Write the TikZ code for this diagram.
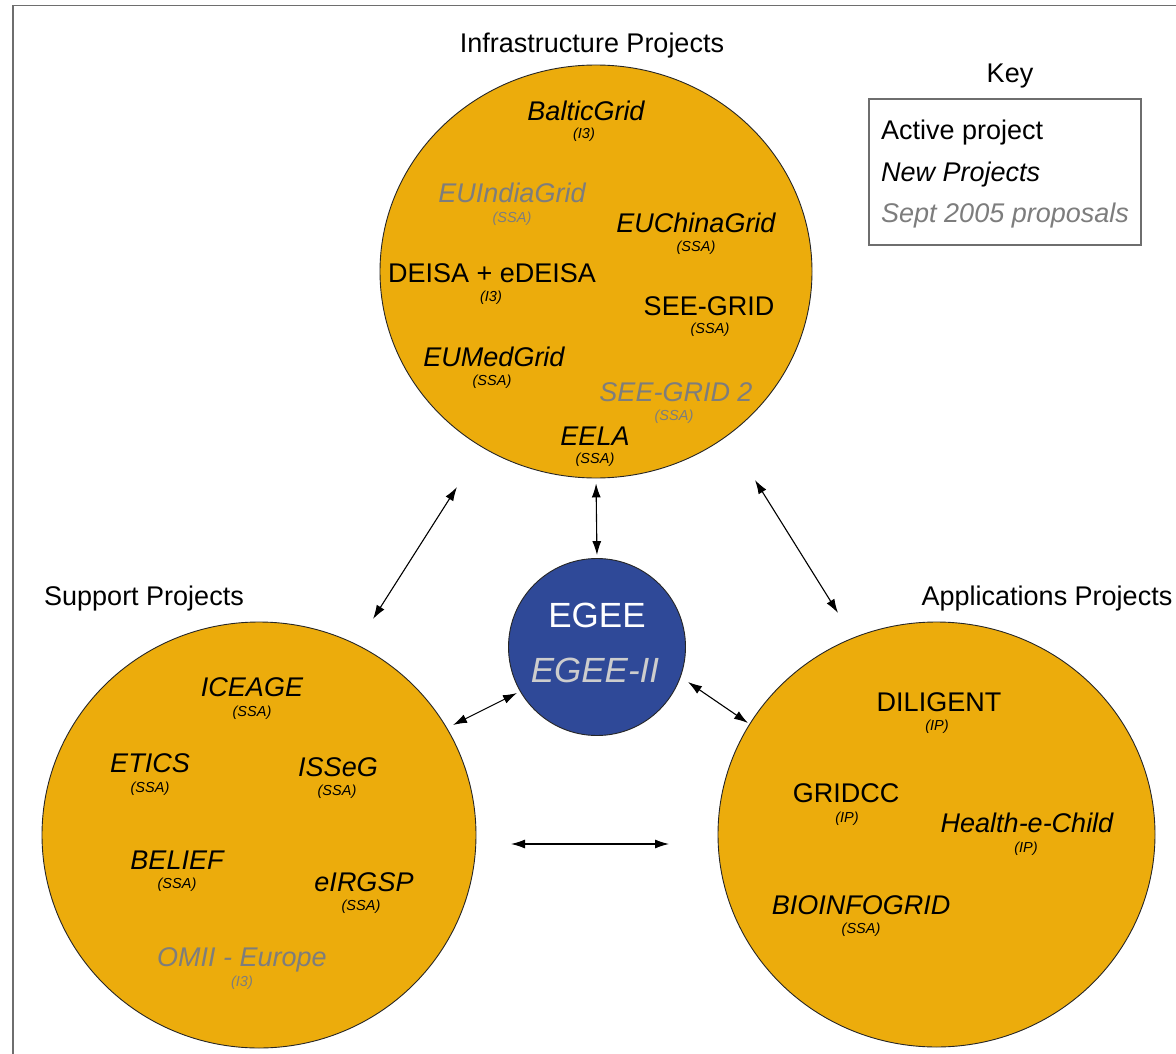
\documentclass[tikz,border=0pt]{standalone}
\usepackage{fontspec}
\setmainfont{Liberation Sans}
\usetikzlibrary{arrows.meta,shapes.geometric}
\definecolor{orangefill}{RGB}{236,172,12}
\definecolor{egeeblue}{RGB}{47,73,152}
\definecolor{propgray}{RGB}{125,125,125}
\definecolor{egeegray}{RGB}{205,205,205}
\definecolor{framegray}{RGB}{110,110,110}
\begin{document}
\begin{tikzpicture}[x=1pt,y=-1pt,
  bubble/.style={draw=black!85, line width=0.9pt, fill=orangefill, ellipse, inner sep=0pt},
  lbl/.style={font=\fontsize{27}{32}\selectfont, inner sep=0pt, text height=19.4pt, text depth=0pt},
  it/.style={lbl, font=\fontsize{27}{32}\selectfont\itshape},
  sub/.style={font=\fontsize{14.5}{17}\selectfont\itshape, inner sep=0pt, text height=10.4pt, text depth=0pt},
  prop/.style={text=propgray},
  arr/.style={line width=1.1pt, {Latex[length=14pt,width=9pt]}-{Latex[length=14pt,width=9pt]}}
]
\useasboundingbox (0,0) rectangle (1176,1054);
\fill[white] (0,0) rectangle (1176,1054);
% frame
\draw[framegray, line width=1.6pt] (13,1054) -- (13,5.5) -- (1176,5.5);

% circles
\node[bubble, minimum width=432pt, minimum height=413pt] (top) at (596,271.5) {};
\node[bubble, minimum width=434pt, minimum height=426pt] (left) at (259,835) {};
\node[bubble, minimum width=437pt, minimum height=425pt] (right) at (936.5,834.5) {};
\node[draw=black!85, line width=0.9pt, fill=egeeblue, circle, inner sep=0pt, minimum size=177pt] (egee) at (597,647) {};

% titles
\node[lbl] (tinfra) at (592,43) {Infrastructure Projects};
\node[lbl] (tsupport) at (144,596) {Support Projects};
\node[lbl] (tapps) at (1047,596) {Applications Projects};

% key
\node[lbl] (tkey) at (1010,73) {Key};
\node[draw=framegray, line width=2pt, minimum width=272pt, minimum height=146pt, inner sep=0pt] (keybox) at (1005,172) {};
\node[lbl, anchor=west] (k1) at (881,130) {Active project};
\node[it, anchor=west] (k2) at (881,172) {New Projects};
\node[it, prop, anchor=west] (k3) at (881,213) {Sept 2005 proposals};

% EGEE
\node[lbl, font=\fontsize{35}{40}\selectfont, text height=25pt, text=white] (e1) at (597,615) {EGEE};
\node[lbl, font=\fontsize{35}{40}\selectfont\itshape, text height=25pt, text=egeegray] (e2) at (595,670) {EGEE-II};

% infrastructure projects
\node[it] (p1) at (586,111) {BalticGrid};
\node[sub] (p1s) at (584,133) {(I3)};
\node[it, prop] (p2) at (512,193) {EUIndiaGrid};
\node[sub, prop] (p2s) at (512,217) {(SSA)};
\node[it] (p3) at (696,223) {EUChinaGrid};
\node[sub] (p3s) at (696,246) {(SSA)};
\node[lbl] (p4) at (492,273) {DEISA + eDEISA};
\node[sub] (p4s) at (491,296) {(I3)};
\node[lbl] (p5) at (709,306) {SEE-GRID};
\node[sub] (p5s) at (710,328) {(SSA)};
\node[it] (p6) at (494,357) {EUMedGrid};
\node[sub] (p6s) at (492,380) {(SSA)};
\node[it, prop] (p7) at (676,392) {SEE-GRID 2};
\node[sub, prop] (p7s) at (674,415) {(SSA)};
\node[it] (p8) at (595,436) {EELA};
\node[sub] (p8s) at (595,458) {(SSA)};

% support projects
\node[it] (q1) at (252,687) {ICEAGE};
\node[sub] (q1s) at (252,711) {(SSA)};
\node[it] (q2) at (150,763) {ETICS};
\node[sub] (q2s) at (150,787) {(SSA)};
\node[it] (q3) at (338,767) {ISSeG};
\node[sub] (q3s) at (337,790) {(SSA)};
\node[it] (q4) at (177,860) {BELIEF};
\node[sub] (q4s) at (177,883) {(SSA)};
\node[it] (q5) at (364,882) {eIRGSP};
\node[sub] (q5s) at (361,905) {(SSA)};
\node[it, prop] (q6) at (242,957) {OMII - Europe};
\node[sub, prop] (q6s) at (242,981) {(I3)};

% applications projects
\node[lbl] (r1) at (939,702) {DILIGENT};
\node[sub] (r1s) at (937,725) {(IP)};
\node[lbl] (r2) at (846,793) {GRIDCC};
\node[sub] (r2s) at (847,817) {(IP)};
\node[it] (r3) at (1027,823) {Health-e-Child};
\node[sub] (r3s) at (1026,847) {(IP)};
\node[it] (r4) at (861,905) {BIOINFOGRID};
\node[sub] (r4s) at (861,928) {(SSA)};

% arrow end points
\coordinate (a1s) at (457,487);
\coordinate (a1e) at (373,619);
\coordinate (a2s) at (755,480);
\coordinate (a2e) at (838,613);
\coordinate (a4s) at (453,725);
\coordinate (a4e) at (517,693);
\coordinate (a5s) at (688,682);
\coordinate (a5e) at (748,723);
\coordinate (a6s) at (511,844);
\coordinate (a6e) at (669,844);

% connectors
\draw[arr, shorten <=5pt, shorten >=3pt] (top.south) -- (egee.north);
\draw[arr] (a1s) -- (a1e);
\draw[arr] (a2s) -- (a2e);
\draw[arr] (a4s) -- (a4e);
\draw[arr] (a5s) -- (a5e);
\draw[arr] (a6s) -- (a6e);
\end{tikzpicture}
\end{document}
